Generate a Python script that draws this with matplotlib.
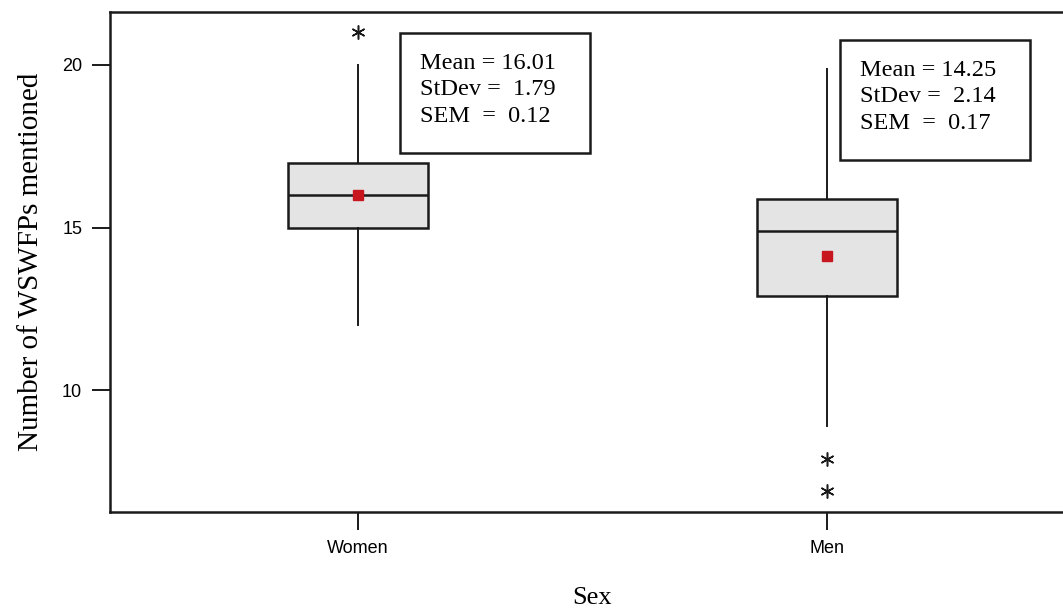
import matplotlib.pyplot as plt
from matplotlib.patches import Rectangle

groups = ["Women", "Men"]
q1 = [15.0, 12.88]
med = [16.0, 14.88]
q3 = [17.0, 15.88]
whislo = [12.0, 8.88]
whishi = [20.0, 19.88]
fliers = [[21.0], [7.88, 6.9]]
means_plot = [16.0, 14.13]
stat_text = [
    "Mean = 16.01\nStDev =  1.79\nSEM  =  0.12",
    "Mean = 14.25\nStDev =  2.14\nSEM  =  0.17",
]
# pixel boxes of the stat panels: left, top, width, height
text_box = [(400, 33, 190, 120), (840, 40, 190, 120)]

fig = plt.figure(figsize=(10.63, 6.08), dpi=100)
W, H = 1063, 608
ax = fig.add_axes([110 / W, 1 - 512 / H, (1075 - 110) / W, (512 - 12) / H])

stats = []
for i in range(len(groups)):
    stats.append(dict(q1=q1[i], med=med[i], q3=q3[i], whislo=whislo[i],
                      whishi=whishi[i], fliers=fliers[i], label=groups[i]))

ax.bxp(stats, positions=[1, 2], widths=0.30, patch_artist=True, showcaps=False,
       boxprops=dict(facecolor="#e4e4e4", edgecolor="#1a1a1a", linewidth=1.8),
       medianprops=dict(color="#1a1a1a", linewidth=1.8),
       whiskerprops=dict(color="#1a1a1a", linewidth=1.4),
       flierprops=dict(marker=(6, 2, 0), markersize=10, markeredgecolor="#1a1a1a",
                       markeredgewidth=1.1, linestyle="none"))
ax.plot([1, 2], means_plot, "s", color="#c8161e", markersize=7, zorder=5)

ax.set_xlim(0.471, 2.529)
ax.set_ylim(6.25, 21.63)
ax.set_yticks([10, 15, 20])
ax.set_xticks([1, 2])
ax.set_xticklabels(groups)
ax.tick_params(direction="out", length=13, width=1.4, color="#1a1a1a",
               labelsize=13, pad=7)
for lab in ax.get_xticklabels() + ax.get_yticklabels():
    lab.set_family("Liberation Sans")
for s in ax.spines.values():
    s.set_linewidth(1.8)
    s.set_color("#1a1a1a")

ax.set_ylabel("Number of WSWFPs mentioned", family="Liberation Serif",
              fontsize=21, labelpad=13)
ax.set_xlabel("Sex", family="Liberation Serif", fontsize=19, labelpad=22)

for (px, py, bw, bh), txt in zip(text_box, stat_text):
    fig.patches.append(Rectangle((px / W, 1 - (py + bh) / H), bw / W, bh / H,
                                 transform=fig.transFigure, facecolor="white",
                                 edgecolor="#1a1a1a", linewidth=1.8, zorder=3))
    fig.text((px + 20) / W, 1 - (py + 20) / H, txt, family="Liberation Serif",
             fontsize=17.5, va="top", ha="left", linespacing=1.33, zorder=4)

fig.savefig("out.png", dpi=100)
